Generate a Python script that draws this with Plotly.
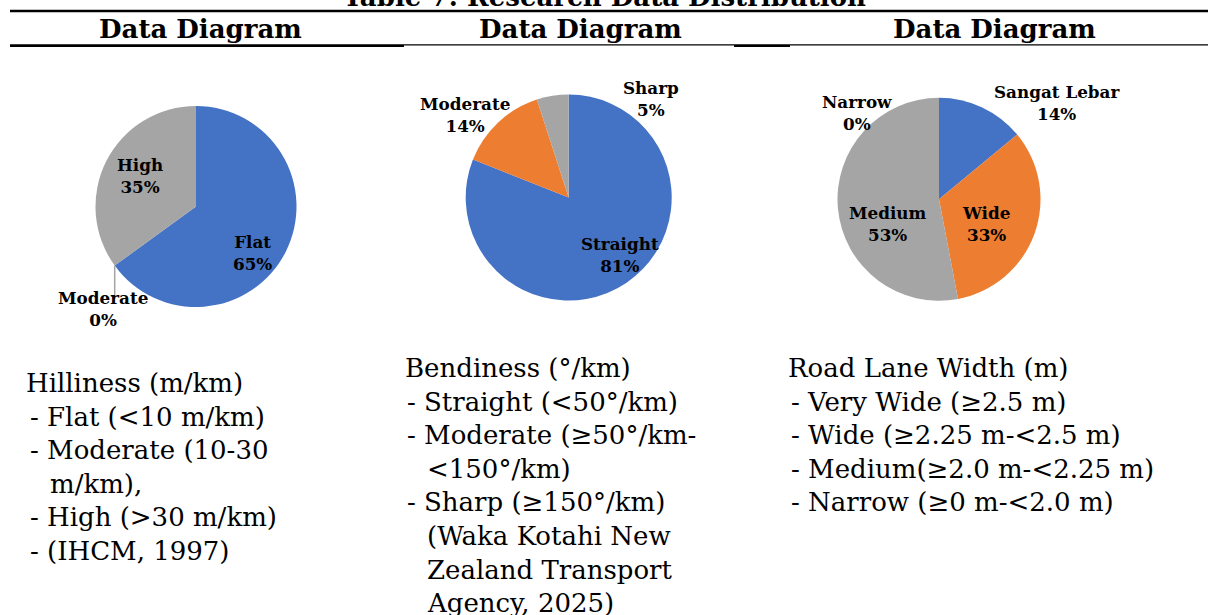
import math
import html
import plotly.graph_objects as go

W, H = 1208, 615

# ---------------- data ----------------
title_text = "Table 7: Research Data Distribution"
header_text = "Data Diagram"

hill_labels = ["Flat", "Moderate", "High"]
hill_values = [65, 0, 35]

bend_labels = ["Straight", "Moderate", "Sharp"]
bend_values = [81, 14, 5]

lane_labels = ["Sangat Lebar", "Wide", "Medium", "Narrow"]
lane_values = [14, 33, 53, 0]

hill_text = ["Hilliness (m/km)", "- Flat (<10 m/km)", "- Moderate (10-30", "m/km),",
             "- High (>30 m/km)", "- (IHCM, 1997)"]
bend_text = ["Bendiness (°/km)", "- Straight (<50°/km)", "- Moderate (≥50°/km-", "<150°/km)",
             "- Sharp (≥150°/km)", "(Waka Kotahi New", "Zealand Transport", "Agency, 2025)"]
lane_text = ["Road Lane Width (m)", "- Very Wide (≥2.5 m)", "- Wide (≥2.25 m-<2.5 m)",
             "- Medium(≥2.0 m-<2.25 m)", "- Narrow (≥0 m-<2.0 m)"]

# ---------------- style / layout ----------------
BLUE, ORANGE, GRAY = "#4472C4", "#ED7D31", "#A5A5A5"
hill_colors = [BLUE, ORANGE, GRAY]
bend_colors = [BLUE, ORANGE, GRAY]
lane_colors = [BLUE, ORANGE, GRAY, "#FFC000"]

SERIF = "DejaVu Serif"
BODY_SIZE = 26
HEAD_SIZE = 26
LABEL_SIZE = 16.8

# pie geometry (center x, center y, radius) in pixels
pies = [
    dict(labels=hill_labels, values=hill_values, colors=hill_colors, cx=196, cy=206.5, r=100.5,
         label_pos=[(252, 253), (103, 309), (140, 176)]),
    dict(labels=bend_labels, values=bend_values, colors=bend_colors, cx=568.7, cy=197.5, r=103,
         label_pos=[(620, 255), (465, 115), (651, 99)]),
    dict(labels=lane_labels, values=lane_values, colors=lane_colors, cx=939, cy=199.3, r=101.5,
         label_pos=[(1057, 103), (986, 224), (888, 224), (857, 113)]),
]

fig = go.Figure()
annotations = []
shapes = []

for p in pies:
    x0 = (p["cx"] - p["r"]) / W
    x1 = (p["cx"] + p["r"]) / W
    y0 = 1 - (p["cy"] + p["r"]) / H
    y1 = 1 - (p["cy"] - p["r"]) / H
    fig.add_trace(go.Pie(
        labels=p["labels"], values=p["values"],
        marker=dict(colors=p["colors"], line=dict(width=0)),
        sort=False, direction="clockwise", rotation=0,
        textinfo="none", hoverinfo="label+percent", showlegend=False,
        domain=dict(x=[x0, x1], y=[y0, y1]),
    ))
    total = sum(p["values"])
    for lab, val, (lx, ly) in zip(p["labels"], p["values"], p["label_pos"]):
        pct = round(100 * val / total)
        annotations.append(dict(
            x=lx, y=ly, xref="x", yref="y", xanchor="center", yanchor="middle",
            text=f"<b>{html.escape(lab)}</b><br><b>{pct}%</b>", showarrow=False,
            font=dict(family=SERIF, size=LABEL_SIZE, color="#000000"), align="center",
        ))

# leader line for the 0% "Moderate" slice of the hilliness pie
p = pies[0]
frac = p["values"][0] / sum(p["values"])
ang = 2 * math.pi * frac
lx = p["cx"] + p["r"] * math.sin(ang)
ly = p["cy"] - p["r"] * math.cos(ang)
shapes.append(dict(type="line", xref="x", yref="y", x0=lx, y0=ly, x1=lx, y1=296,
                   line=dict(color=GRAY, width=1.5)))

# table rules
shapes += [
    dict(type="line", xref="x", yref="y", x0=10, x1=1208, y0=11, y1=11, line=dict(color="black", width=2.5)),
    dict(type="line", xref="x", yref="y", x0=10, x1=1208, y0=44.8, y1=44.8, line=dict(color="black", width=1.2)),
    dict(type="line", xref="x", yref="y", x0=10, x1=404, y0=46, y1=46, line=dict(color="black", width=2)),
    dict(type="line", xref="x", yref="y", x0=734, x1=790, y0=46, y1=46, line=dict(color="black", width=2)),
]

# title (cut at top) and headers
annotations.append(dict(x=604, y=14, xref="x", yref="y", xanchor="center", yanchor="bottom",
                        text=f"<b>{title_text}</b>", showarrow=False,
                        font=dict(family=SERIF, size=HEAD_SIZE, color="black")))
for hx in [200, 580, 994]:
    annotations.append(dict(x=hx, y=38 - 0.345 * HEAD_SIZE, xref="x", yref="y", xanchor="center",
                            yanchor="middle", text=f"<b>{header_text}</b>", showarrow=False,
                            font=dict(family=SERIF, size=HEAD_SIZE, color="black")))

# body text columns
def add_column(lines, xs, base0, step=33.6):
    for i, (t, x) in enumerate(zip(lines, xs)):
        annotations.append(dict(
            x=x, y=base0 + i * step - 0.345 * BODY_SIZE, xref="x", yref="y",
            xanchor="left", yanchor="middle", text=html.escape(t), showarrow=False,
            font=dict(family=SERIF, size=BODY_SIZE, color="black"), align="left",
        ))

add_column(hill_text, [24, 28, 28, 48, 28, 28], 392)
add_column(bend_text, [403, 405, 405, 425, 405, 425, 425, 425], 377)
add_column(lane_text, [786, 789, 789, 789, 789], 377)

fig.update_layout(
    width=W, height=H, margin=dict(l=0, r=0, t=0, b=0, pad=0),
    paper_bgcolor="white", plot_bgcolor="white",
    xaxis=dict(range=[0, W], visible=False, fixedrange=True),
    yaxis=dict(range=[H, 0], visible=False, fixedrange=True),
    annotations=annotations, shapes=shapes, showlegend=False,
)

fig.write_html("out.html")
